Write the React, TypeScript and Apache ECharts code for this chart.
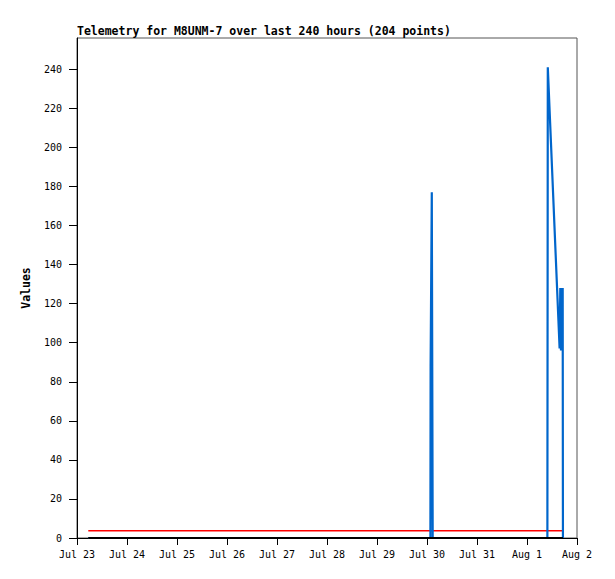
import React, { useEffect, useRef } from "react";
import * as echarts from "echarts";

const TITLE = "Telemetry for M8UNM-7 over last 240 hours (204 points)";
const Y_NAME = "Values";

const X_TICK_DATES = [
  "2025-07-23", "2025-07-24", "2025-07-25", "2025-07-26", "2025-07-27", "2025-07-28",
  "2025-07-29", "2025-07-30", "2025-07-31", "2025-08-01", "2025-08-02",
];
const X_TICK_LABELS = [
  "Jul 23", "Jul 24", "Jul 25", "Jul 26", "Jul 27", "Jul 28",
  "Jul 29", "Jul 30", "Jul 31", "Aug 1", "Aug 2",
];
const Y_TICKS = [0, 20, 40, 60, 80, 100, 120, 140, 160, 180, 200, 220, 240];
const Y_MAX = 256;

// blue series
const BLUE_TIMES = [
  "2025-07-23T05:25:00Z",
  "2025-07-30T01:38:00Z",
  "2025-07-30T01:44:00Z",
  "2025-07-30T02:18:00Z",
  "2025-07-30T02:36:00Z",
  "2025-07-30T02:44:00Z",
  "2025-08-01T09:47:00Z",
  "2025-08-01T09:59:00Z",
  "2025-08-01T15:39:00Z",
  "2025-08-01T15:59:00Z",
  "2025-08-01T16:19:00Z",
  "2025-08-01T16:34:00Z",
  "2025-08-01T16:51:00Z",
  "2025-08-01T17:08:00Z",
  "2025-08-01T17:15:00Z",
];
const BLUE_VALUES = [0, 0, 88, 177, 177, 0, 0, 241, 97, 128, 96, 128, 96, 128, 0];

// red series (flat)
const RED_TIMES = ["2025-07-23T05:25:00Z", "2025-08-01T16:59:00Z"];
const RED_VALUES = [3.7, 3.7];

// black series (flat at zero)
const BLACK_TIMES = ["2025-07-23T05:25:00Z", "2025-08-01T17:15:00Z"];
const BLACK_VALUES = [0, 0];

const FONT = "'DejaVu Sans Mono', 'Liberation Mono', monospace";

const toPairs = (times: string[], values: number[]) =>
  times.map((t, i) => [Date.parse(t), values[i]]);

export default function App() {
  const ref = useRef<HTMLDivElement>(null);

  useEffect(() => {
    if (!ref.current) return;
    const chart = echarts.init(ref.current, undefined, { renderer: "svg" });
    const xTicks = X_TICK_DATES.map((d) => Date.parse(d + "T00:00:00Z"));
    const xMin = xTicks[0];
    const xMax = xTicks[xTicks.length - 1];

    chart.setOption({
      animation: false,
      backgroundColor: "#ffffff",
      title: {
        text: TITLE,
        left: 77,
        top: 25,
        padding: 0,
        textStyle: {
          fontFamily: FONT,
          fontSize: 11.5,
          fontWeight: "bold",
          color: "#000",
        },
      },
      grid: {
        left: 77,
        top: 38,
        right: 38,
        bottom: 41,
        show: true,
        borderColor: "#555555",
        borderWidth: 1,
        outerBoundsMode: "none",
        containLabel: false,
      },
      xAxis: {
        type: "value",
        min: xMin,
        max: xMax,
        splitLine: { show: false },
        axisLine: { show: true, onZero: false, lineStyle: { color: "#000", width: 1 } },
        axisTick: {
          show: true,
          inside: false,
          length: 7,
          customValues: xTicks,
          lineStyle: { color: "#000", width: 1 },
        },
        axisLabel: {
          show: true,
          margin: 11,
          customValues: xTicks,
          fontFamily: FONT,
          fontSize: 10,
          color: "#000",
          formatter: (v: number) => {
            const i = xTicks.indexOf(v);
            return i >= 0 ? X_TICK_LABELS[i] : "";
          },
        },
      },
      yAxis: {
        type: "value",
        min: 0,
        max: Y_MAX,
        name: Y_NAME,
        nameLocation: "middle",
        nameRotate: 90,
        nameGap: 45,
        nameTextStyle: {
          fontFamily: FONT,
          fontSize: 11.5,
          fontWeight: "bold",
          color: "#000",
        },
        splitLine: { show: false },
        axisLine: { show: true, onZero: false, lineStyle: { color: "#000", width: 1 } },
        axisTick: {
          show: true,
          inside: false,
          length: 8,
          customValues: Y_TICKS,
          lineStyle: { color: "#000", width: 1 },
        },
        axisLabel: {
          show: true,
          margin: 15,
          customValues: Y_TICKS,
          fontFamily: FONT,
          fontSize: 10,
          color: "#000",
        },
      },
      series: [
        {
          type: "line",
          data: toPairs(RED_TIMES, RED_VALUES),
          showSymbol: false,
          symbol: "none",
          lineStyle: { color: "#ff0000", width: 1.7 },
          z: 2,
        },
        {
          type: "line",
          data: toPairs(BLUE_TIMES, BLUE_VALUES),
          showSymbol: false,
          symbol: "none",
          lineStyle: { color: "#0066cc", width: 2.2 },
          z: 3,
        },
        {
          type: "line",
          data: toPairs(BLACK_TIMES, BLACK_VALUES),
          showSymbol: false,
          symbol: "none",
          lineStyle: { color: "#000000", width: 2 },
          z: 4,
        },
      ],
    });

    return () => chart.dispose();
  }, []);

  return (
    <div
      ref={ref}
      style={{ position: "fixed", left: 0, top: 0, width: 615, height: 579, background: "#fff" }}
    />
  );
}
